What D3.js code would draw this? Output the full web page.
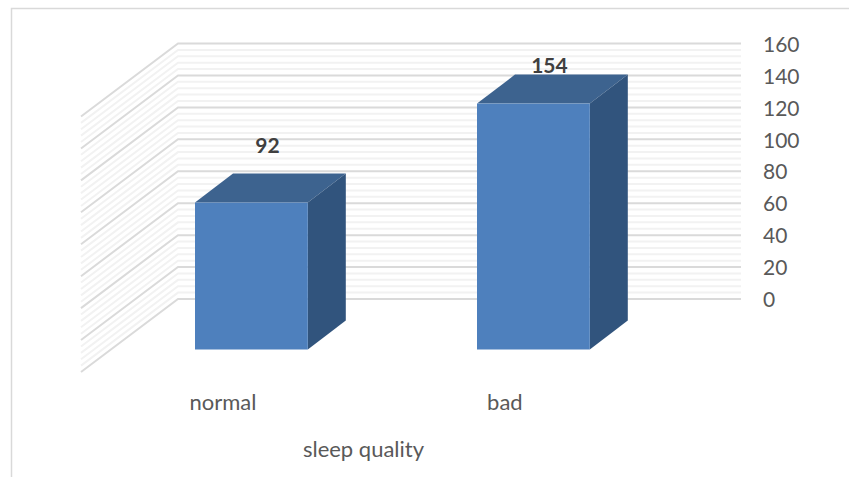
<!DOCTYPE html>
<html lang="en">
<head>
  <meta charset="UTF-8">
  <title>Sleep quality - D3</title>
  <script src="https://d3js.org/d3.v7.min.js"></script>
  <style>
    body { margin: 0; background: #fff; font-family: Lato, "Open Sans", sans-serif; }
    svg { display: block; }
    .axis text { font-size: 21px; fill: #595959; font-family: Lato, "Open Sans", sans-serif; }
    .axis path, .axis line { display: none; }
    .cat { font-size: 22px; fill: #595959; text-anchor: middle; }
    .label { font-size: 21px; font-weight: bold; fill: #404040; text-anchor: middle; }
  </style>
</head>
<body>
<script>
var categories = ["normal", "bad"];
var values = [92, 154];
var yTicks = [0, 20, 40, 60, 80, 100, 120, 140, 160];
var minorTicks = [4, 8, 12, 16];
var axisTitle = "sleep quality";

var width = 849, height = 477;
var wallLeft = 178, wallRight = 741;
var sideDx = -97, sideDy = 73;   // floor depth of the side wall
var barDx = 38, barDy = -29;     // depth of each box
var barBase = 349.5;

var svg = d3.select("body").append("svg")
  .attr("width", width)
  .attr("height", height);

// cadre du graphique
svg.append("path")
  .attr("d", d3.line()([[11.5, height], [11.5, 8.5], [width, 8.5]]))
  .attr("fill", "none")
  .attr("stroke", "#d9d9d9")
  .attr("stroke-width", 1.5);

var y = d3.scaleLinear().domain([0, 160]).range([299, 43.5]);
var x = d3.scaleBand().domain(categories).range([110.4, 674.4])
  .paddingInner(0.6).paddingOuter(0.3);

// height of a bar, same units as the wall
var barH = d => y(0) - y(d);

// labels do not sit at a constant distance from the box in the original
var labelY = d3.scaleLinear().domain(values).range([153, 73]);

// minor lines first, major on top
var minor = [];
yTicks.slice(0, -1).forEach(t => minorTicks.forEach(m => minor.push(t + m)));

function wall(sel, data, color, w) {
  sel.selectAll(null)
    .data(data)
    .enter()
    .append("path")
    .attr("d", d => d3.line()([
      [wallLeft + sideDx, y(d) + sideDy],
      [wallLeft, y(d)],
      [wallRight, y(d)]
    ]))
    .attr("fill", "none")
    .attr("stroke", color)
    .attr("stroke-width", w);
}

var grid = svg.append("g");
wall(grid, minor, "#f2f2f2", 2);
wall(grid, yTicks, "#dadada", 2);

// Barres
var bars = svg.selectAll(".bar")
  .data(categories.map((c, i) => ({ name: c, value: values[i] })))
  .enter()
  .append("g")
  .attr("class", "bar");

// top face
bars.append("path")
  .attr("fill", "#3d638f")
  .attr("d", d => {
    var x0 = x(d.name), x1 = x0 + x.bandwidth(), t = barBase - barH(d.value);
    return d3.line()([[x0, t], [x0 + barDx, t + barDy], [x1 + barDx, t + barDy], [x1, t]]) + "Z";
  });

// right face
bars.append("path")
  .attr("fill", "#31547d")
  .attr("d", d => {
    var x1 = x(d.name) + x.bandwidth(), t = barBase - barH(d.value);
    return d3.line()([[x1, t], [x1 + barDx, t + barDy], [x1 + barDx, barBase + barDy], [x1, barBase]]) + "Z";
  });

// front face
bars.append("rect")
  .attr("fill", "#4e80bd")
  .attr("x", d => x(d.name))
  .attr("y", d => barBase - barH(d.value))
  .attr("width", x.bandwidth())
  .attr("height", d => barH(d.value));

// Étiquettes sur les barres
bars.append("text")
  .attr("class", "label")
  .attr("x", d => x(d.name) + x.bandwidth() / 2 + 16)
  .attr("y", d => labelY(d.value))
  .text(d => d.value);

// Axe Y
svg.append("g")
  .attr("class", "axis")
  .attr("transform", "translate(763,1)")
  .call(d3.axisRight(y).tickValues(yTicks).tickSize(0).tickPadding(0));

// Catégories
svg.selectAll(".cat")
  .data(categories)
  .enter()
  .append("text")
  .attr("class", "cat")
  .attr("x", d => x(d) + x.bandwidth() / 2 - 28.5)
  .attr("y", 410)
  .text(d => d);

svg.append("text")
  .attr("class", "cat")
  .attr("x", 363.5)
  .attr("y", 457)
  .text(axisTitle);
</script>
</body>
</html>
